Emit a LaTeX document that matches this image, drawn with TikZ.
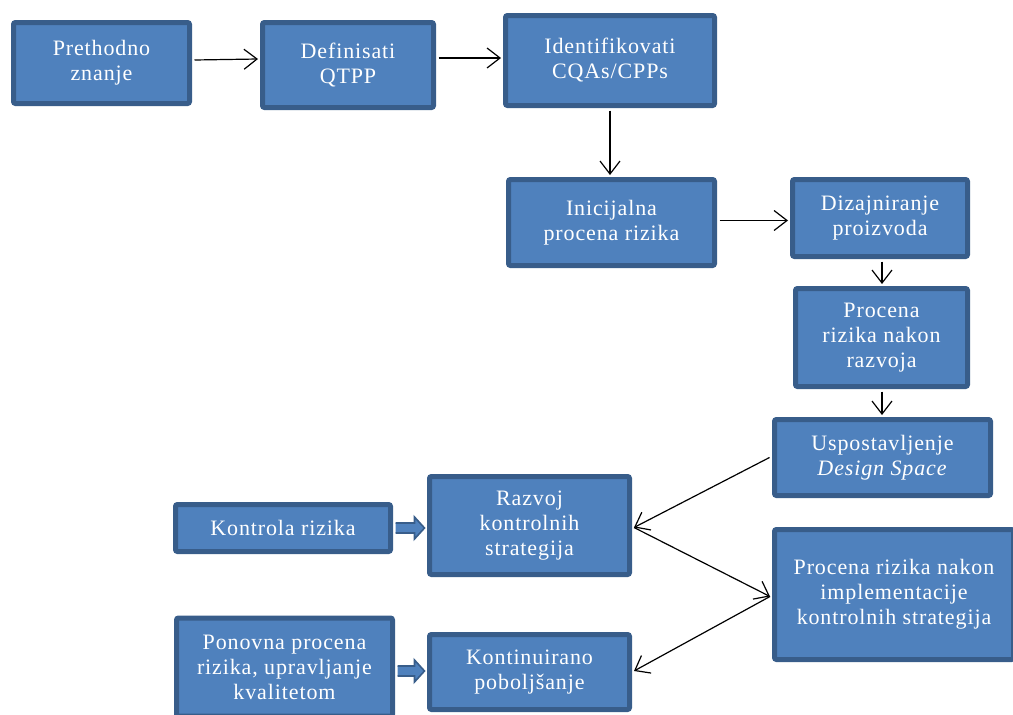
\documentclass[tikz,border=0pt]{standalone}
\usepackage{fontspec}
\setmainfont{Liberation Serif}[LetterSpace=4]
\usetikzlibrary{arrows.meta,calc}
\definecolor{boxfill}{HTML}{4F81BD}
\definecolor{boxline}{HTML}{385D8A}
\tikzset{
  box/.style={draw=boxline, fill=boxfill, line width=5pt, rounded corners=2pt,
    text=white, align=center, inner sep=0pt,
    font=\fontsize{22}{25}\selectfont},
  conn/.style={line width=1.2pt, black, -{Straight Barb[length=13pt,width=20pt,line width=1.2pt]}},
  fat/.style={fill=boxfill, draw=boxline, line width=1.6pt, line join=miter}
}
\begin{document}
\begin{tikzpicture}[x=1pt,y=-1pt]
\useasboundingbox (0,0) rectangle (1013,715);
\node[box, minimum width=176pt, minimum height=81pt] (n1) at (101.5,63) {Prethodno\\znanje};
\node[box, minimum width=171pt, minimum height=85pt] (n2) at (348,65) {Definisati\\QTPP};
\node[box, minimum width=209pt, minimum height=90pt] (n3) at (610,60.5) {Identifikovati\\CQAs/CPPs};
\node[box, minimum width=206pt, minimum height=86pt] (n4) at (611.5,222.5) {Inicijalna\\procena rizika};
\node[box, minimum width=175pt, minimum height=77pt] (n5) at (880,218) {Dizajniranje\\proizvoda};
\node[box, minimum width=172pt, minimum height=98pt] (n6) at (881.5,337.5) {Procena\\rizika nakon\\razvoja};
\node[box, minimum width=216pt, minimum height=76pt] (n7) at (882.5,457.5) {Uspostavljenje\\\textit{Design Space}};
\node[box, minimum width=200pt, minimum height=98pt] (n8) at (529.5,525.5) {Razvoj\\kontrolnih\\strategija};
\node[box, minimum width=215pt, minimum height=47pt] (n9) at (283,528) {Kontrola rizika};
\node[box, minimum width=239pt, minimum height=130pt] (n10) at (894,594.5) {Procena rizika nakon\\implementacije\\kontrolnih strategija};
\node[box, minimum width=216pt, minimum height=98pt] (n11) at (284.5,667) {Ponovna procena\\rizika, upravljanje\\kvalitetom};
\node[box, minimum width=200pt, minimum height=75pt] (n12) at (529.5,672) {Kontinuirano\\poboljšanje};

\draw[conn] ($(n1.east)+(2.5,-3)$) -- ($(n2.west |- n1.east)+(-2,-4)$);
\draw[conn] ($(n2.east)+(2.5,-7)$) -- ($(n3.west |- n2.east)+(-2,-7)$);
\draw[conn] ($(n3.south)+(0,2.5)$) -- ($(n4.north -| n3.south)+(0,-2)$);
\draw[conn] ($(n4.east)+(2.5,-2)$) -- ($(n5.west |- n4.east)+(-2,-2)$);
\draw[conn] ($(n5.south)+(2,2.5)$) -- ($(n6.north)+(0.5,-2)$);
\draw[conn] ($(n6.south)+(0.5,2.5)$) -- ($(n7.north -| n6.south)+(0.5,-2)$);
\draw[conn] ($(n7.west)+(-2.5,0)$) -- ($(n8.east)+(2,2)$);
\draw[conn] ($(n8.east)+(2,2)$) -- ($(n10.west)+(-2,2)$);
\draw[conn] ($(n10.west)+(-2,2)$) -- ($(n12.east)+(2,-1)$);

\path ($(n9.east)+(2.5,0)$) coordinate (a0) ($(n8.west |- n9.east)+(-2.5,0)$) coordinate (a1);
\draw[fat] ($(a0)+(0,-5)$) -- ($(a1)+(-10,-5)$) -- ($(a1)+(-10,-11)$) -- (a1)
  -- ($(a1)+(-10,11)$) -- ($(a1)+(-10,5)$) -- ($(a0)+(0,5)$);
\path ($(n11.east |- n12.west)+(2.5,-1)$) coordinate (b0) ($(n12.west)+(-2.5,-1)$) coordinate (b1);
\draw[fat] ($(b0)+(0,-5)$) -- ($(b1)+(-10,-5)$) -- ($(b1)+(-10,-11)$) -- (b1)
  -- ($(b1)+(-10,11)$) -- ($(b1)+(-10,5)$) -- ($(b0)+(0,5)$);
\end{tikzpicture}
\end{document}
